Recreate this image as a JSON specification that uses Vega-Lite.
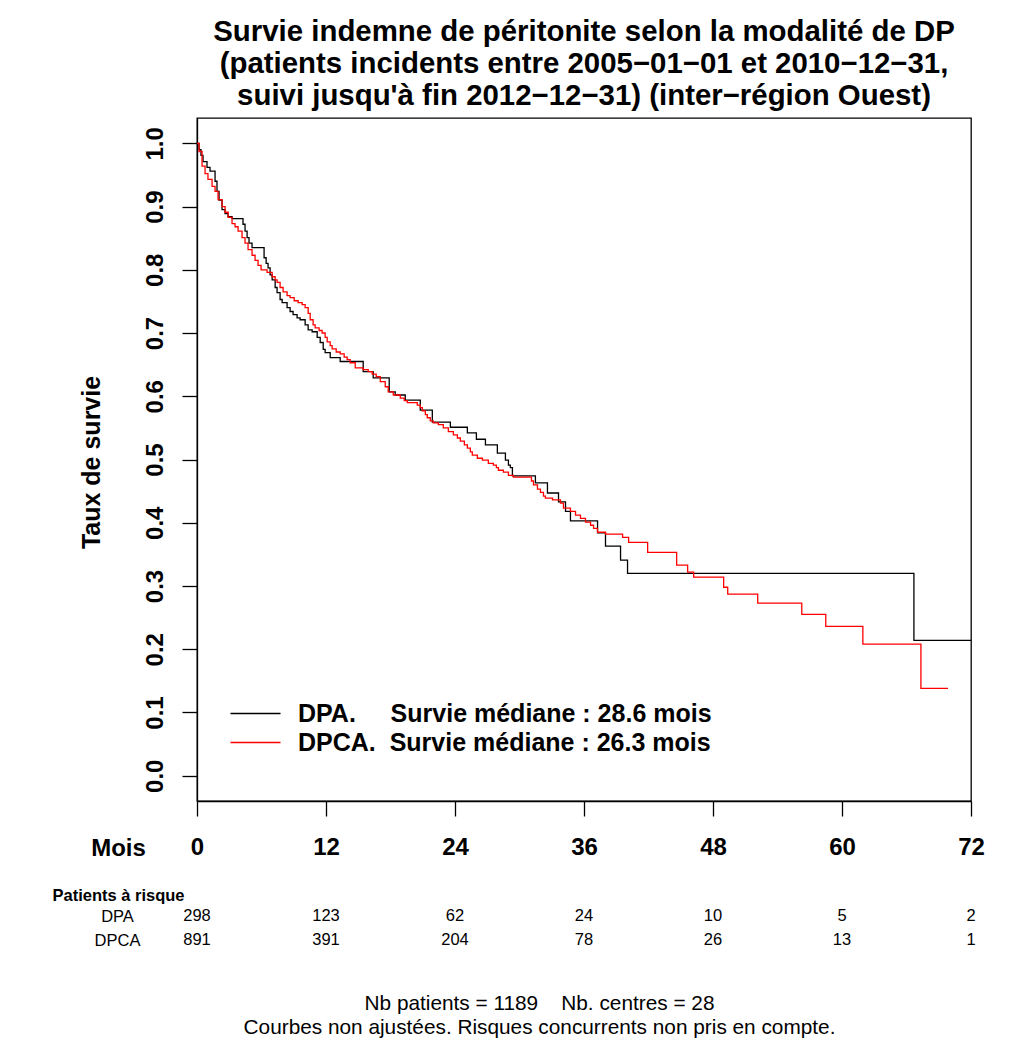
{
  "$schema": "https://vega.github.io/schema/vega-lite/v6.json",
  "padding": {"left": 52, "top": 15, "right": 5, "bottom": 5},
  "background": "white",
  "bounds": "flush",
  "spacing": 103,
  "config": {
    "font": "Liberation Sans",
    "axis": {"domainColor": "black", "tickColor": "black", "labelColor": "black", "titleColor": "black", "grid": false}
  },
  "datasets": {
    "courbes": [
      {"serie":"DPA","mois":0,"survie":1.0},{"serie":"DPA","mois":0.19,"survie":0.990},{"serie":"DPA","mois":0.37,"survie":0.981},{"serie":"DPA","mois":0.56,"survie":0.971},{"serie":"DPA","mois":0.93,"survie":0.962},{"serie":"DPA","mois":1.21,"survie":0.956},{"serie":"DPA","mois":1.68,"survie":0.940},{"serie":"DPA","mois":1.86,"survie":0.924},{"serie":"DPA","mois":2.05,"survie":0.910},{"serie":"DPA","mois":2.33,"survie":0.895},{"serie":"DPA","mois":2.61,"survie":0.889},{"serie":"DPA","mois":2.89,"survie":0.884},{"serie":"DPA","mois":3.26,"survie":0.881},{"serie":"DPA","mois":4.28,"survie":0.872},{"serie":"DPA","mois":4.47,"survie":0.861},{"serie":"DPA","mois":4.66,"survie":0.851},{"serie":"DPA","mois":4.84,"survie":0.842},{"serie":"DPA","mois":5.12,"survie":0.835},{"serie":"DPA","mois":6.24,"survie":0.819},{"serie":"DPA","mois":6.43,"survie":0.810},{"serie":"DPA","mois":6.61,"survie":0.803},{"serie":"DPA","mois":6.80,"survie":0.792},{"serie":"DPA","mois":6.99,"survie":0.784},{"serie":"DPA","mois":7.27,"survie":0.772},{"serie":"DPA","mois":7.45,"survie":0.764},{"serie":"DPA","mois":7.73,"survie":0.753},{"serie":"DPA","mois":7.92,"survie":0.748},{"serie":"DPA","mois":8.38,"survie":0.740},{"serie":"DPA","mois":8.66,"survie":0.734},{"serie":"DPA","mois":8.94,"survie":0.729},{"serie":"DPA","mois":9.31,"survie":0.724},{"serie":"DPA","mois":9.59,"survie":0.721},{"serie":"DPA","mois":10.06,"survie":0.713},{"serie":"DPA","mois":10.34,"survie":0.705},{"serie":"DPA","mois":10.71,"survie":0.702},{"serie":"DPA","mois":11.18,"survie":0.693},{"serie":"DPA","mois":11.46,"survie":0.685},{"serie":"DPA","mois":11.74,"survie":0.674},{"serie":"DPA","mois":11.92,"survie":0.669},{"serie":"DPA","mois":12.39,"survie":0.661},{"serie":"DPA","mois":13.32,"survie":0.655},{"serie":"DPA","mois":15.46,"survie":0.639},{"serie":"DPA","mois":16.39,"survie":0.629},{"serie":"DPA","mois":17.88,"survie":0.607},{"serie":"DPA","mois":18.44,"survie":0.602},{"serie":"DPA","mois":19.37,"survie":0.594},{"serie":"DPA","mois":20.77,"survie":0.578},{"serie":"DPA","mois":21.89,"survie":0.559},{"serie":"DPA","mois":23.57,"survie":0.551},{"serie":"DPA","mois":25.15,"survie":0.542},{"serie":"DPA","mois":25.99,"survie":0.532},{"serie":"DPA","mois":26.83,"survie":0.523},{"serie":"DPA","mois":27.94,"survie":0.510},{"serie":"DPA","mois":28.69,"survie":0.499},{"serie":"DPA","mois":28.97,"survie":0.491},{"serie":"DPA","mois":29.15,"survie":0.487},{"serie":"DPA","mois":29.34,"survie":0.474},{"serie":"DPA","mois":31.48,"survie":0.463},{"serie":"DPA","mois":32.60,"survie":0.447},{"serie":"DPA","mois":33.63,"survie":0.433},{"serie":"DPA","mois":34.28,"survie":0.418},{"serie":"DPA","mois":34.74,"survie":0.403},{"serie":"DPA","mois":37.26,"survie":0.384},{"serie":"DPA","mois":38.00,"survie":0.363},{"serie":"DPA","mois":39.40,"survie":0.341},{"serie":"DPA","mois":40.05,"survie":0.320},{"serie":"DPA","mois":66.69,"survie":0.214},{"serie":"DPA","mois":72,"survie":0.214},
      {"serie":"DPCA","mois":0,"survie":1.0},{"serie":"DPCA","mois":0.19,"survie":0.987},{"serie":"DPCA","mois":0.47,"survie":0.964},{"serie":"DPCA","mois":0.75,"survie":0.952},{"serie":"DPCA","mois":1.02,"survie":0.943},{"serie":"DPCA","mois":1.40,"survie":0.932},{"serie":"DPCA","mois":1.68,"survie":0.924},{"serie":"DPCA","mois":1.96,"survie":0.911},{"serie":"DPCA","mois":2.33,"survie":0.900},{"serie":"DPCA","mois":2.61,"survie":0.891},{"serie":"DPCA","mois":2.89,"survie":0.883},{"serie":"DPCA","mois":3.26,"survie":0.873},{"serie":"DPCA","mois":3.54,"survie":0.868},{"serie":"DPCA","mois":3.82,"survie":0.861},{"serie":"DPCA","mois":4.19,"survie":0.851},{"serie":"DPCA","mois":4.47,"survie":0.842},{"serie":"DPCA","mois":4.75,"survie":0.832},{"serie":"DPCA","mois":5.12,"survie":0.823},{"serie":"DPCA","mois":5.40,"survie":0.815},{"serie":"DPCA","mois":5.68,"survie":0.807},{"serie":"DPCA","mois":5.96,"survie":0.800},{"serie":"DPCA","mois":6.52,"survie":0.796},{"serie":"DPCA","mois":6.99,"survie":0.789},{"serie":"DPCA","mois":7.27,"survie":0.784},{"serie":"DPCA","mois":7.45,"survie":0.780},{"serie":"DPCA","mois":7.73,"survie":0.772},{"serie":"DPCA","mois":8.01,"survie":0.765},{"serie":"DPCA","mois":8.38,"survie":0.759},{"serie":"DPCA","mois":8.66,"survie":0.756},{"serie":"DPCA","mois":9.04,"survie":0.751},{"serie":"DPCA","mois":9.41,"survie":0.748},{"serie":"DPCA","mois":9.78,"survie":0.745},{"serie":"DPCA","mois":10.06,"survie":0.740},{"serie":"DPCA","mois":10.34,"survie":0.731},{"serie":"DPCA","mois":10.53,"survie":0.721},{"serie":"DPCA","mois":10.80,"survie":0.713},{"serie":"DPCA","mois":10.99,"survie":0.708},{"serie":"DPCA","mois":11.36,"survie":0.704},{"serie":"DPCA","mois":11.64,"survie":0.700},{"serie":"DPCA","mois":11.92,"survie":0.693},{"serie":"DPCA","mois":12.11,"survie":0.686},{"serie":"DPCA","mois":12.39,"survie":0.680},{"serie":"DPCA","mois":12.57,"survie":0.675},{"serie":"DPCA","mois":12.95,"survie":0.670},{"serie":"DPCA","mois":13.32,"survie":0.667},{"serie":"DPCA","mois":13.69,"survie":0.662},{"serie":"DPCA","mois":13.97,"survie":0.658},{"serie":"DPCA","mois":14.25,"survie":0.653},{"serie":"DPCA","mois":14.72,"survie":0.645},{"serie":"DPCA","mois":15.46,"survie":0.642},{"serie":"DPCA","mois":15.93,"survie":0.639},{"serie":"DPCA","mois":16.30,"survie":0.635},{"serie":"DPCA","mois":16.67,"survie":0.631},{"serie":"DPCA","mois":17.05,"survie":0.623},{"serie":"DPCA","mois":17.51,"survie":0.615},{"serie":"DPCA","mois":17.79,"survie":0.607},{"serie":"DPCA","mois":18.26,"survie":0.602},{"serie":"DPCA","mois":18.91,"survie":0.597},{"serie":"DPCA","mois":19.28,"survie":0.593},{"serie":"DPCA","mois":19.56,"survie":0.590},{"serie":"DPCA","mois":20.49,"survie":0.586},{"serie":"DPCA","mois":20.77,"survie":0.582},{"serie":"DPCA","mois":20.96,"survie":0.577},{"serie":"DPCA","mois":21.24,"survie":0.571},{"serie":"DPCA","mois":21.42,"survie":0.566},{"serie":"DPCA","mois":21.70,"survie":0.561},{"serie":"DPCA","mois":21.98,"survie":0.558},{"serie":"DPCA","mois":22.45,"survie":0.555},{"serie":"DPCA","mois":22.91,"survie":0.550},{"serie":"DPCA","mois":23.38,"survie":0.544},{"serie":"DPCA","mois":23.85,"survie":0.539},{"serie":"DPCA","mois":24.22,"survie":0.534},{"serie":"DPCA","mois":24.50,"survie":0.529},{"serie":"DPCA","mois":24.87,"survie":0.523},{"serie":"DPCA","mois":25.15,"survie":0.518},{"serie":"DPCA","mois":25.43,"survie":0.512},{"serie":"DPCA","mois":25.61,"survie":0.507},{"serie":"DPCA","mois":26.08,"survie":0.502},{"serie":"DPCA","mois":26.55,"survie":0.499},{"serie":"DPCA","mois":27.10,"survie":0.494},{"serie":"DPCA","mois":27.57,"survie":0.491},{"serie":"DPCA","mois":27.85,"survie":0.487},{"serie":"DPCA","mois":28.04,"survie":0.483},{"serie":"DPCA","mois":28.50,"survie":0.480},{"serie":"DPCA","mois":28.97,"survie":0.475},{"serie":"DPCA","mois":29.43,"survie":0.472},{"serie":"DPCA","mois":31.11,"survie":0.466},{"serie":"DPCA","mois":31.30,"survie":0.460},{"serie":"DPCA","mois":31.67,"survie":0.453},{"serie":"DPCA","mois":31.95,"survie":0.448},{"serie":"DPCA","mois":32.23,"survie":0.442},{"serie":"DPCA","mois":32.41,"survie":0.439},{"serie":"DPCA","mois":33.07,"survie":0.436},{"serie":"DPCA","mois":33.81,"survie":0.431},{"serie":"DPCA","mois":34.09,"survie":0.423},{"serie":"DPCA","mois":34.74,"survie":0.418},{"serie":"DPCA","mois":35.21,"survie":0.412},{"serie":"DPCA","mois":35.67,"survie":0.407},{"serie":"DPCA","mois":36.14,"survie":0.401},{"serie":"DPCA","mois":36.61,"survie":0.396},{"serie":"DPCA","mois":36.89,"survie":0.391},{"serie":"DPCA","mois":37.26,"survie":0.385},{"serie":"DPCA","mois":38.00,"survie":0.382},{"serie":"DPCA","mois":39.59,"survie":0.377},{"serie":"DPCA","mois":40.15,"survie":0.369},{"serie":"DPCA","mois":41.92,"survie":0.353},{"serie":"DPCA","mois":44.62,"survie":0.333},{"serie":"DPCA","mois":45.64,"survie":0.322},{"serie":"DPCA","mois":46.20,"survie":0.314},{"serie":"DPCA","mois":48.99,"survie":0.298},{"serie":"DPCA","mois":49.37,"survie":0.287},{"serie":"DPCA","mois":52.16,"survie":0.273},{"serie":"DPCA","mois":56.26,"survie":0.255},{"serie":"DPCA","mois":58.49,"survie":0.236},{"serie":"DPCA","mois":61.94,"survie":0.208},{"serie":"DPCA","mois":67.34,"survie":0.138},{"serie":"DPCA","mois":69.86,"survie":0.138}
    ],
    "risque": [
      {"serie":"DPA","mois":0,"n":298},{"serie":"DPA","mois":12,"n":123},{"serie":"DPA","mois":24,"n":62},{"serie":"DPA","mois":36,"n":24},{"serie":"DPA","mois":48,"n":10},{"serie":"DPA","mois":60,"n":5},{"serie":"DPA","mois":72,"n":2},
      {"serie":"DPCA","mois":0,"n":891},{"serie":"DPCA","mois":12,"n":391},{"serie":"DPCA","mois":24,"n":204},{"serie":"DPCA","mois":36,"n":78},{"serie":"DPCA","mois":48,"n":26},{"serie":"DPCA","mois":60,"n":13},{"serie":"DPCA","mois":72,"n":1}
    ]
  },
  "vconcat": [
    {
      "width": 774,
      "height": 683,
      "view": {"stroke": "black", "strokeWidth": 1.3, "fill": "white"},
      "title": {
        "text": ["Survie indemne de péritonite selon la modalité de DP", "(patients incidents entre 2005−01−01 et 2010−12−31,", " suivi jusqu'à fin 2012−12−31) (inter−région Ouest)"],
        "fontSize": 29.4,
        "fontWeight": "bold",
        "lineHeight": 32,
        "anchor": "middle",
        "offset": 7,
        "color": "black"
      },
      "data": {"name": "courbes"},
      "mark": {"type": "line", "interpolate": "step-after", "strokeWidth": 1.3, "clip": true},
      "encoding": {
        "x": {
          "field": "mois", "type": "quantitative",
          "scale": {"domain": [0, 72], "nice": false, "zero": false},
          "axis": {
            "values": [0, 12, 24, 36, 48, 60, 72],
            "tickSize": 15, "tickWidth": 1.3, "domainWidth": 1.3,
            "labelFontSize": 24, "labelFontWeight": "bold",
            "labelBaseline": "alphabetic", "labelPadding": 38,
            "labelFlush": false, "labelOverlap": false,
            "title": "Mois", "titleFontSize": 24, "titleFontWeight": "bold",
            "titleX": -79, "titleY": 54, "titleAlign": "center", "titleBaseline": "alphabetic", "titleAnchor": null
          }
        },
        "y": {
          "field": "survie", "type": "quantitative",
          "scale": {"domain": [-0.04, 1.04], "nice": false, "zero": false},
          "axis": {
            "values": [0, 0.1, 0.2, 0.3, 0.4, 0.5, 0.6, 0.7, 0.8, 0.9, 1.0],
            "format": ".1f",
            "tickSize": 15, "tickWidth": 1.3, "domainWidth": 1.3,
            "labelFontSize": 24, "labelFontWeight": "bold",
            "labelAngle": -90, "labelAlign": "center", "labelBaseline": "alphabetic",
            "labelPadding": 20, "labelFlush": false, "labelOverlap": false,
            "title": "Taux de survie", "titleFontSize": 25, "titleFontWeight": "bold",
            "titleAngle": -90, "titleAlign": "center", "titleBaseline": "alphabetic",
            "titleX": -98, "titleY": 344
          }
        },
        "color": {
          "field": "serie", "type": "nominal",
          "scale": {"domain": ["DPA", "DPCA"], "range": ["#000000", "#ff0000"]},
          "legend": {
            "orient": "none", "legendX": 46, "legendY": 583,
            "title": null,
            "symbolType": "M-5,0H5", "symbolSize": 100, "symbolStrokeWidth": 1.3,
            "labelFontSize": 25, "labelFontWeight": "bold", "labelColor": "black",
            "labelOffset": 30, "rowPadding": 3, "padding": 0,
            "labelLimit": 600,
            "labelExpr": "datum.label == 'DPA' ? 'DPA.\u00a0\u00a0\u00a0\u00a0\u00a0Survie médiane : 28.6 mois' : 'DPCA.\u00a0\u00a0Survie médiane : 26.3 mois'"
          }
        }
      }
    },
    {
      "width": 774,
      "height": 48,
      "view": {"stroke": null},
      "data": {"name": "risque"},
      "mark": {"type": "text", "fontSize": 16.5, "align": "center", "baseline": "middle", "color": "black"},
      "encoding": {
        "x": {
          "field": "mois", "type": "quantitative",
          "scale": {"domain": [0, 72], "nice": false, "zero": false},
          "axis": {
            "labels": false, "ticks": false, "domain": false,
            "title": ["Nb patients = 1189 \u00a0\u00a0\u00a0Nb. centres = 28", "Courbes non ajustées. Risques concurrents non pris en compte."],
            "titleFontSize": 20.8, "titleFontWeight": "normal", "titleLineHeight": 24,
            "titleX": 342, "titleY": 41, "titleAlign": "center", "titleBaseline": "top", "titleAnchor": null
          }
        },
        "y": {
          "field": "serie", "type": "nominal",
          "scale": {"type": "point", "domain": ["DPA", "DPCA"], "padding": 0.5},
          "axis": {
            "domain": false, "ticks": false,
            "labelFontSize": 16.5, "labelAlign": "center", "labelBaseline": "middle", "labelPadding": 80,
            "title": "Patients à risque", "titleFontSize": 16.5, "titleFontWeight": "bold",
            "titleAngle": 0, "titleAlign": "left", "titleBaseline": "middle",
            "titleX": -145, "titleY": -9
          }
        },
        "text": {"field": "n", "type": "quantitative"}
      }
    }
  ]
}
